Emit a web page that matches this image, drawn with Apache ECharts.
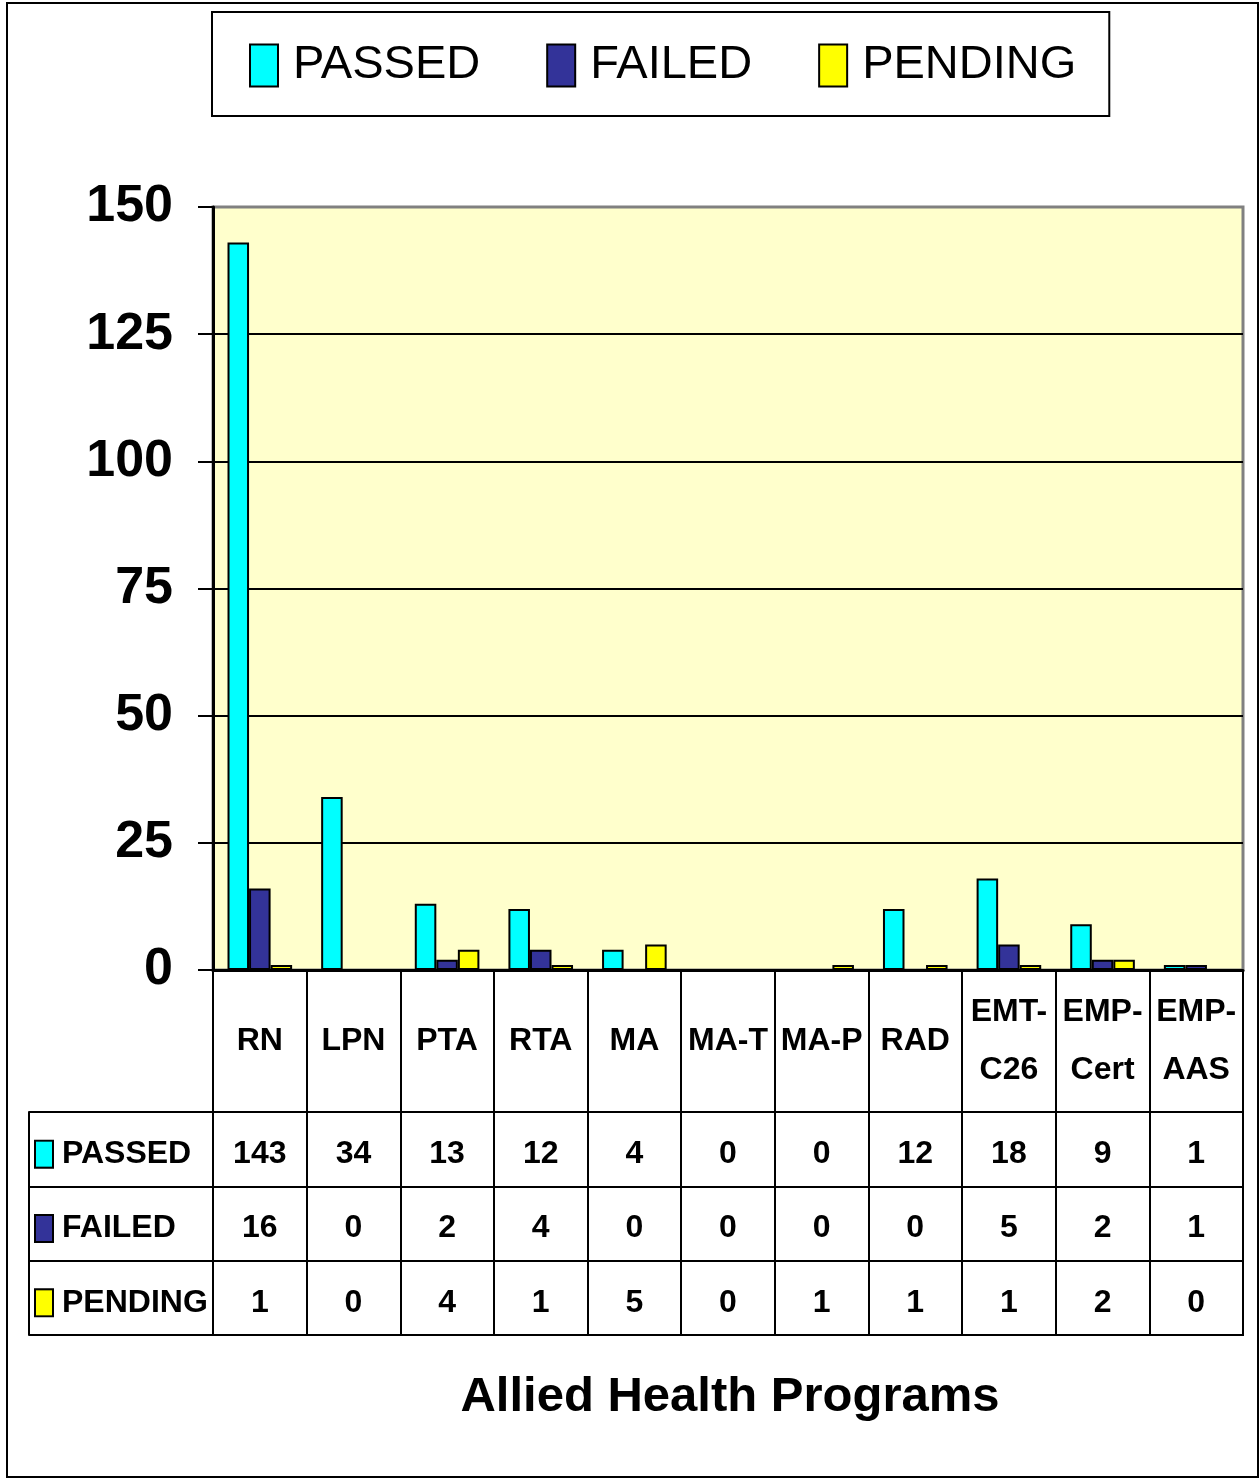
<!DOCTYPE html>
<html>
<head>
<meta charset="utf-8">
<script src="https://cdn.jsdelivr.net/npm/echarts@6/dist/echarts.min.js"></script>
<style>
html,body{margin:0;padding:0;background:#fff;}
#chart{width:1260px;height:1480px;}
</style>
</head>
<body>
<div id="chart"></div>
<script>
// ---- data ----
const categories = ['RN', 'LPN', 'PTA', 'RTA', 'MA', 'MA-T', 'MA-P', 'RAD', 'EMT-\nC26', 'EMP-\nCert', 'EMP-\nAAS'];
const passed  = [143, 34, 13, 12, 4, 0, 0, 12, 18, 9, 1];
const failed  = [16, 0, 2, 4, 0, 0, 0, 0, 5, 2, 1];
const pending = [1, 0, 4, 1, 5, 0, 1, 1, 1, 2, 0];
const seriesNames = ['PASSED', 'FAILED', 'PENDING'];
const yTicks = [0, 25, 50, 75, 100, 125, 150];

const colors = ['#00FFFF', '#333399', '#FFFF00'];
const FONT = "'Liberation Sans', Arial, sans-serif";

const seriesData = [passed, failed, pending];

// table cell data built from the arrays: [categoryIndex, rowName, value]
const tableCells = [];
seriesData.forEach((arr, r) => {
  arr.forEach((v, c) => tableCells.push([c, seriesNames[r], v]));
});

const chart = echarts.init(document.getElementById('chart'), null, {renderer: 'canvas'});

const boxStyle = (c) => ({width: 16, height: 25, backgroundColor: c, borderColor: '#000', borderWidth: 2});
const rowRich = {
  b0: boxStyle(colors[0]),
  b1: boxStyle(colors[1]),
  b2: boxStyle(colors[2]),
  t: {fontFamily: FONT, fontSize: 32, fontWeight: 'bold', color: '#000', padding: [0, 0, 0, 10]}
};

const option = {
  backgroundColor: '#fff',
  animation: false,
  title: {
    text: 'Allied Health Programs',
    left: 725, top: 1368, textAlign: 'center',
    textStyle: {fontFamily: FONT, fontSize: 49, fontWeight: 'bold', color: '#000'}
  },
  legend: {
    data: seriesNames,
    left: 212, top: 12,
    orient: 'horizontal',
    padding: [30, 33, 27, 37],
    itemGap: 66,
    itemWidth: 28, itemHeight: 42,
    borderColor: '#000', borderWidth: 2,
    icon: 'rect',
    itemStyle: {borderColor: '#000', borderWidth: 2},
    textStyle: {fontFamily: FONT, fontSize: 47, color: '#000', padding: [0, 0, 0, 10]}
  },
  graphic: [{
    type: 'rect', silent: true, z: -1,
    shape: {x: 7, y: 3, width: 1251, height: 1474},
    style: {fill: 'none', stroke: '#000', lineWidth: 2}
  }],
  grid: [
    {left: 213, right: 17, top: 207, height: 763, show: true, backgroundColor: '#FFFFCC', borderColor: '#808080', borderWidth: 3},
    {left: 213, right: 17, top: 1112, height: 223, show: true, borderColor: '#000', borderWidth: 2, backgroundColor: 'transparent'}
  ],
  xAxis: [
    {
      type: 'category', gridIndex: 0, data: categories,
      axisLine: {show: true, lineStyle: {color: '#000', width: 3}},
      axisTick: {show: true, alignWithLabel: false, length: 142, interval: 0, lineStyle: {color: '#000', width: 2}},
      axisLabel: {interval: 0, margin: 71, verticalAlign: 'middle', lineHeight: 58,
        fontFamily: FONT, fontSize: 32, fontWeight: 'bold', color: '#000'},
      splitLine: {show: false}
    },
    {
      type: 'category', gridIndex: 1, data: categories,
      axisLine: {show: false},
      axisTick: {show: false},
      axisLabel: {show: false},
      splitLine: {show: true, interval: 0, lineStyle: {color: '#000', width: 2}}
    }
  ],
  yAxis: [
    {
      type: 'value', gridIndex: 0, min: 0, max: 150, interval: 25,
      axisLine: {show: true, lineStyle: {color: '#000', width: 3}},
      axisTick: {show: true, length: 15, lineStyle: {color: '#000', width: 2}},
      axisLabel: {margin: 40, fontFamily: FONT, fontSize: 52, fontWeight: 'bold', color: '#000',
        formatter: v => (yTicks.indexOf(v) >= 0 ? String(v) : '')},
      splitLine: {show: true, lineStyle: {color: ['#000', '#000', '#000', '#000', '#000', '#000', '#808080'], width: 2}}
    },
    {
      type: 'category', gridIndex: 1, data: seriesNames, inverse: true,
      axisLine: {show: true, lineStyle: {color: '#000', width: 2}},
      axisTick: {show: true, alignWithLabel: false, length: 184, interval: 0, lineStyle: {color: '#000', width: 2}},
      axisLabel: {
        align: 'left', margin: 177, interval: 0, padding: [10, 0, 0, 0],
        formatter: (v) => {
          const i = seriesNames.indexOf(v);
          return '{b' + i + '|}{t|' + v + '}';
        },
        rich: rowRich
      },
      splitLine: {show: true, interval: 0, lineStyle: {color: '#000', width: 2}}
    },
    {
      type: 'category', gridIndex: 1, data: seriesNames, inverse: true,
      position: 'left', offset: 184,
      axisLine: {show: true, lineStyle: {color: '#000', width: 2}},
      axisTick: {show: false}, axisLabel: {show: false}, splitLine: {show: false}
    }
  ],
  series: [
    ...seriesNames.map((name, i) => ({
      name: name, type: 'bar', xAxisIndex: 0, yAxisIndex: 0,
      // zero-height bars get no outline so they do not thicken the axis
      data: seriesData[i].map(v => (v === 0 ? {value: v, itemStyle: {borderWidth: 0}} : v)),
      barGap: '0%', barCategoryGap: '31%',
      itemStyle: {color: colors[i], borderColor: '#000', borderWidth: 2},
      z: 3
    })),
    {
      type: 'scatter', xAxisIndex: 1, yAxisIndex: 1,
      data: tableCells,
      symbolSize: 1,
      itemStyle: {color: '#ffffff', opacity: 1},
      label: {show: true, position: 'inside', formatter: p => String(p.value[2]),
        fontFamily: FONT, fontSize: 32, fontWeight: 'bold', color: '#000',
        textBorderWidth: 0, textShadowBlur: 0, offset: [0, 5]},
      z: 5,
      silent: true
    }
  ]
};
chart.setOption(option);
</script>
</body>
</html>
